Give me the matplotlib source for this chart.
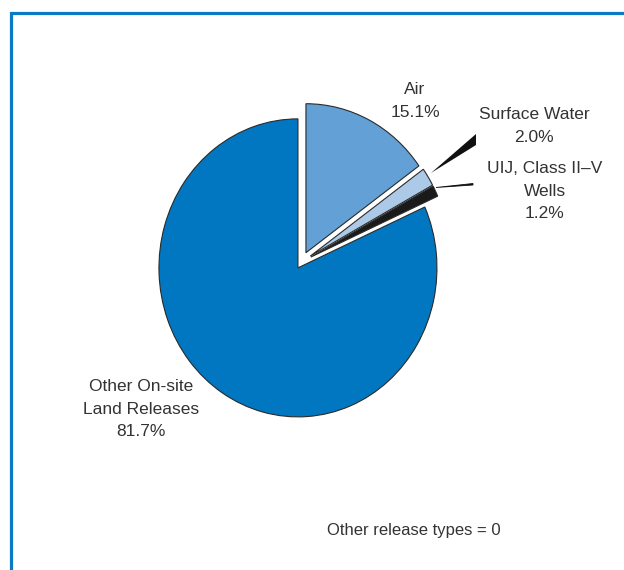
import matplotlib.pyplot as plt
from matplotlib.patches import Polygon

# release types, share of total on-site releases (%)
categories = ["Air", "Surface Water", "UIJ, Class II\u2013V Wells", "Other On-site Land Releases"]
values = [15.1, 2.0, 1.2, 81.7]
label_text = ["Air\n15.1%", "Surface Water\n2.0%", "UIJ, Class II\u2013V\nWells\n1.2%",
              "Other On-site\nLand Releases\n81.7%"]
colors = ["#62a0d6", "#adc9e8", "#1a1a1a", "#0077c0"]
explode = [0.07, 0.075, 0.075, 0.047]

W, H = 624, 570
S = 139 / 149  # picture is squeezed a bit horizontally
R = 139


def Y(py):
    # pixel row -> data y
    return (H - py) * S


fig = plt.figure(figsize=(W / 100, H / 100), dpi=100)
ax = fig.add_axes([0, 0, 1, 1])

# explode in pie is in data units, so scale by the radius
ax.pie(values, colors=colors, explode=[e * R for e in explode], startangle=90,
       counterclock=False, radius=R, center=(301.5, Y(262)),
       wedgeprops=dict(edgecolor="#2a2a2a", linewidth=0.8))

ax.set_aspect("auto")
ax.set_xlim(0, W)
ax.set_ylim(0, H * S)
ax.axis("off")

# frame (top and left only)
ax.plot([10.5, 10.5, W + 5], [Y(H + 5), Y(12.5), Y(12.5)], color="#0a7ac4", lw=2.3,
        solid_joinstyle="miter", clip_on=False)

txt = dict(fontsize=12.5, color="#333333", family="Liberation Sans", ha="center", va="center",
           linespacing=1.62)
ax.text(415, Y(101), label_text[0], **txt)
ax.text(534, Y(126), label_text[1], **txt)
ax.text(545, Y(191), label_text[2], **txt)
ax.text(141, Y(409), label_text[3], **txt)

ax.text(414, Y(530), "Other release types = 0", fontsize=12, color="#333333",
        family="Liberation Sans", ha="center", va="center")

# leader marks
tri = [(431, Y(173)), (476, Y(134)), (476, Y(145))]
ax.add_patch(Polygon(tri, closed=True, color="#111111", lw=0))
tri2 = [(436, Y(187.5)), (473, Y(183.5)), (473, Y(185))]
ax.add_patch(Polygon(tri2, closed=True, color="#111111", lw=0.6))

fig.savefig("out.png", dpi=100)
